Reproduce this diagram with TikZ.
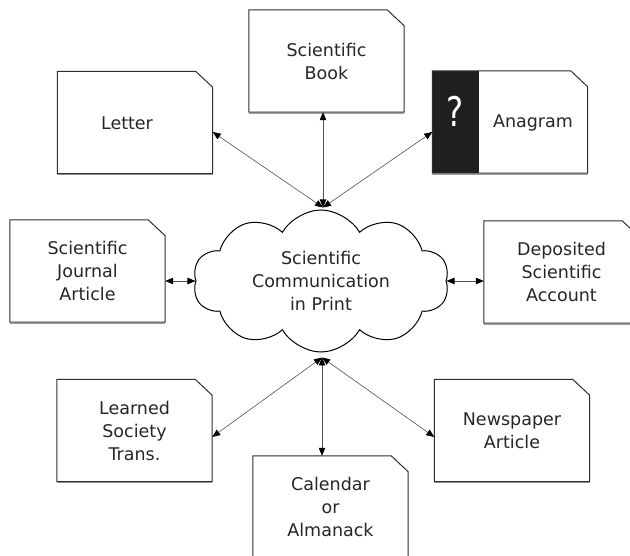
\documentclass[tikz,border=0pt]{standalone}
\usepackage{fontspec}
\setmainfont{DejaVu Sans}
\usetikzlibrary{arrows.meta,shapes.symbols}
\definecolor{txt}{HTML}{262626}
\definecolor{edge}{HTML}{2E2E2E}
\definecolor{conn}{HTML}{505050}
\tikzset{
  lbl/.style={inner sep=0pt, align=center, text=txt, font=\fontsize{17.5}{23}\selectfont},
  doc/.style={lbl, minimum width=155pt, minimum height=102pt},
  docline/.style={draw=edge, line width=1pt, line join=miter},
  docshadow/.style={draw=gray!75, line width=1.2pt},
  link/.style={draw=conn, line width=0.6pt,
    {Triangle[length=8pt,width=6.5pt,color=black]}-{Triangle[length=8pt,width=6.5pt,color=black]}},
}
\newcommand\docoutline[1]{%
  \draw[docshadow] ([yshift=-1pt]#1.south west) -- ([yshift=-1pt]#1.south east);
  \draw[docline] (#1.south west) -- (#1.north west) -- ([xshift=-17pt]#1.north east)
    -- ([yshift=-16pt]#1.north east) -- (#1.south east) -- cycle;}
\begin{document}
\begin{tikzpicture}[x=1pt,y=-1pt]
\useasboundingbox (0,0) rectangle (630,556);
\clip (0,0) rectangle (630,556);

% document nodes
\node[doc] (book) at (326.5,61) {Scientific\\Book};
\node[doc] (letter) at (135,122.5) {};
\node[lbl] (lettertext) at (127,123) {Letter};
\node[doc] (anagram) at (510,122) {};
\node[doc] (journal) at (87.5,271) {Scientific\\Journal\\Article};
\node[doc] (deposit) at (561.5,272) {Deposited\\Scientific\\Account};
\node[doc] (learned) at (134.5,430.5) {Learned\\Society\\Trans.};
\node[doc] (news) at (512,430.5) {Newspaper\\Article};
\node[doc] (calendar) at (330.5,507) {Calendar\\or\\Almanack};

% anagram black band
\fill[black!88] (anagram.south west) rectangle ([xshift=47pt]anagram.north west);
\node[inner sep=0pt, text=white, font=\fontsize{34}{34}\selectfont] (qmark) at (455.5,111) {\scalebox{0.95}[1.2]{?}};
\node[lbl] (anatext) at (533,123) {Anagram};

\foreach \n in {book,letter,anagram,journal,deposit,learned,news,calendar}{\docoutline{\n}}

% cloud
\node[cloud, cloud puffs=10, cloud puff arc=120, aspect=1.8, draw=black, line width=1pt,
      minimum width=256pt, minimum height=142pt, lbl] (cloud) at (321,281)
      {Scientific\\Communication\\in Print};

% connectors
\coordinate (ctop) at (323,207.5);
\coordinate (cbot) at (322,357.5);
\draw[link] (ctop) -- ([yshift=-9.5pt]letter.east);
\draw[link] (ctop) -- (ctop |- book.south);
\draw[link] (ctop) -- ([yshift=-10pt]anagram.west);
\draw[link] (cloud.west -| journal.east) -- (cloud.west);
\draw[link] (cloud.east) -- (cloud.east -| deposit.west);
\draw[link] (cbot) -- ([yshift=-6.5pt]learned.east);
\draw[link] (cbot) -- (cbot |- calendar.north);
\draw[link] (cbot) -- ([yshift=-6.5pt]news.west);
\end{tikzpicture}
\end{document}
